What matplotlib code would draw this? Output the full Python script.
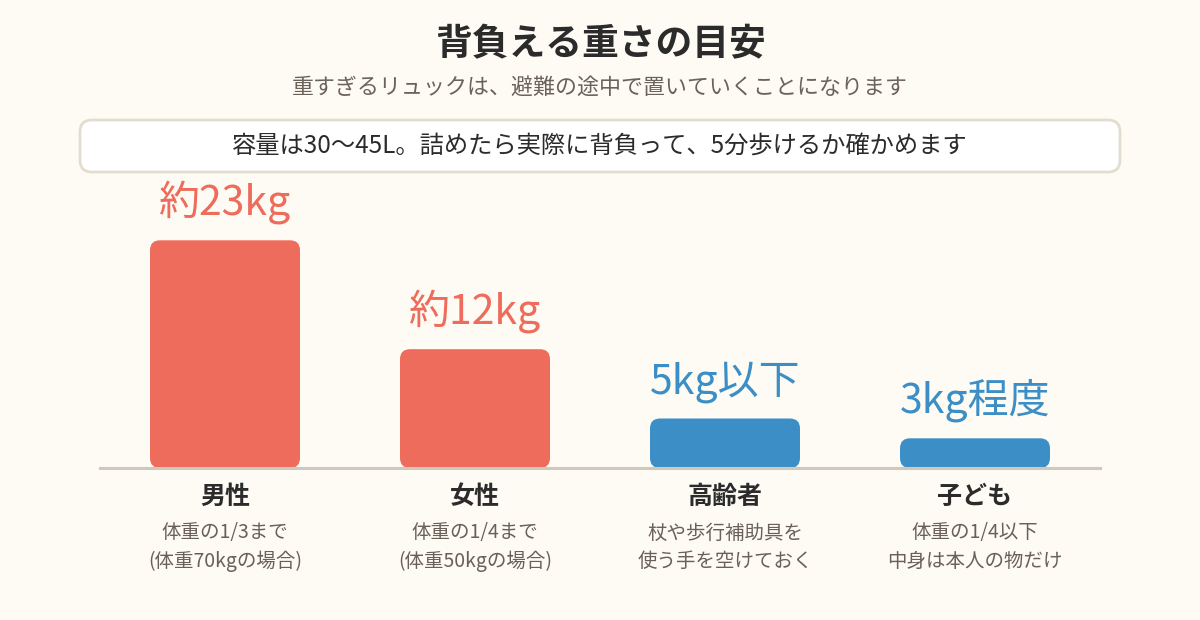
import matplotlib.pyplot as plt
from matplotlib.patches import FancyBboxPatch

plt.rcParams['font.family'] = ['Noto Sans CJK JP', 'DejaVu Sans']

title = '背負える重さの目安'
subtitle = '重すぎるリュックは、避難の途中で置いていくことになります'
note = '容量は30〜45L。詰めたら実際に背負って、5分歩けるか確かめます'

categories = ['男性', '女性', '高齢者', '子ども']
weights = [23, 12, 5, 3]
value_labels = ['約23kg', '約12kg', '5kg以下', '3kg程度']
details = ['体重の1/3まで\n(体重70kgの場合)',
           '体重の1/4まで\n(体重50kgの場合)',
           '杖や歩行補助具を\n使う手を空けておく',
           '体重の1/4以下\n中身は本人の物だけ']

bg = '#FDFBF4'
coral = '#EE6C5B'
blue = '#3B8FC6'
colors = [coral, coral, blue, blue]

W, H = 1200, 620
fig = plt.figure(figsize=(W / 100, H / 100), dpi=100, facecolor=bg)

# full-figure axes in pixel coordinates for the text and the note box
top = fig.add_axes([0, 0, 1, 1])
top.set_xlim(0, W)
top.set_ylim(H, 0)
top.axis('off')

top.text(600, 45, title, ha='center', va='center', fontsize=26.5,
         fontweight='bold', color='#2b2b2b')
top.text(600, 88, subtitle, ha='center', va='center', fontsize=15.8,
         color='#6b625a')
box = FancyBboxPatch((80, 120), 1040, 52, boxstyle='round,pad=0,rounding_size=12',
                     facecolor='white', edgecolor='#E2DDCF', lw=2)
top.add_patch(box)
top.text(600, 146, note, ha='center', va='center', fontsize=17.5, color='#2b2b2b')

# bar axes: baseline at y=468 px, from x=100 to 1100 px
base_px, top_px = 468, 200
ax = fig.add_axes([100 / W, (H - base_px) / H, 1000 / W, (base_px - top_px) / H])
ax.set_facecolor('none')
px_per_kg = 9.9
ax.set_xlim(-0.5, 3.5)
ax.set_ylim(0, (base_px - top_px) / px_per_kg)
ax.axis('off')

bar_w = 0.6
x_units_px = 1000 / 4
aspect = x_units_px / px_per_kg
r = 10 / x_units_px
for i, (w, c) in enumerate(zip(weights, colors)):
    p = FancyBboxPatch((i - bar_w / 2, 0), bar_w, w,
                       boxstyle=f'round,pad=0,rounding_size={r}',
                       mutation_aspect=aspect, facecolor=c, edgecolor='none')
    ax.add_patch(p)
    ax.text(i, w + 1.6, value_labels[i], ha='center', va='bottom',
            fontsize=29.5, color=c)

ax.axhline(0, color='#CFC8BC', lw=2.2, zorder=5, clip_on=False)

for i, (cat, d) in enumerate(zip(categories, details)):
    xc = 225 + i * 250
    top.text(xc, 497, cat, ha='center', va='center', fontsize=18,
             fontweight='bold', color='#2b2b2b')
    top.text(xc, 547, d, ha='center', va='center', fontsize=14,
             color='#6a6058', linespacing=1.45)

fig.savefig('out.png', dpi=100, facecolor=bg)
